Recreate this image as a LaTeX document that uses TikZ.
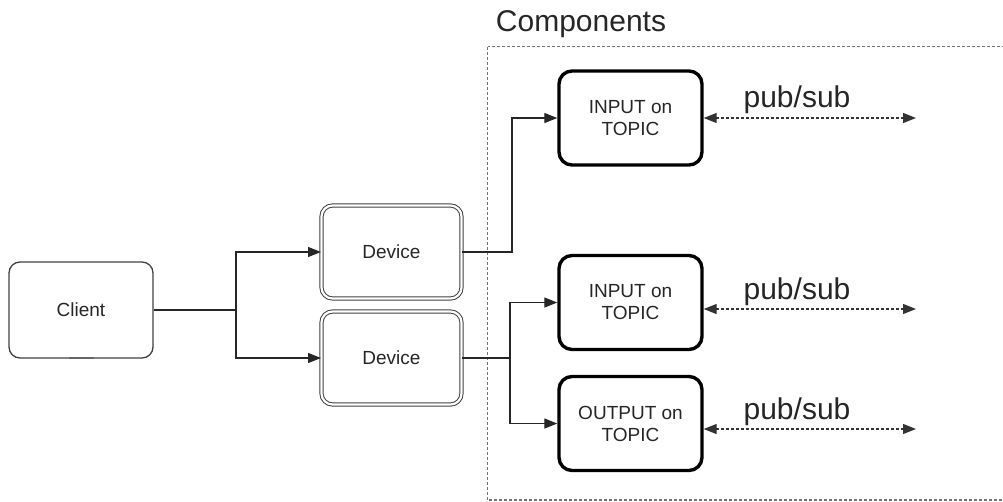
\documentclass[tikz,border=0pt]{standalone}
\usepackage{fontspec}
\setmainfont{Liberation Sans}
\usetikzlibrary{arrows.meta,positioning}

\tikzset{
  small/.style={font=\fontsize{19}{22}\selectfont, align=center, text=black!85},
  big/.style={font=\fontsize{30}{34}\selectfont, text=black!85},
  plainbox/.style={draw=black!75, line width=1.3pt, rounded corners=11pt,
    minimum width=144pt, minimum height=96pt, small},
  devbox/.style={draw=black!75, double=white, double distance=2.2pt, line width=1pt,
    rounded corners=11pt, minimum width=140pt, minimum height=93pt, small},
  topicbox/.style={draw=black, line width=3.4pt, rounded corners=13pt,
    minimum width=143pt, minimum height=94pt, small},
  link/.style={draw=black!85, line width=1.3pt, -{Triangle[length=13pt,width=10pt]}},
  wire/.style={draw=black!85, line width=1.3pt},
  pubsub/.style={draw=black!80, line width=1.3pt, dash pattern=on 3pt off 2pt,
    {Triangle[length=13pt,width=10pt]}-{Triangle[length=13pt,width=10pt]}},
  group/.style={draw=black!55, line width=1.2pt, dash pattern=on 3pt off 2pt}
}

\begin{document}
\begin{tikzpicture}[x=1pt,y=-1pt]
\useasboundingbox (0,0) rectangle (1003,501);
\clip (0,0) rectangle (1003,501);

% group frame for the components
\draw[group] (487.5,46.5) rectangle (1010,500);
\node[big, anchor=base] (comp) at (581,31) {Components};

% client and devices
\node[plainbox] (client) at (81,310) {Client};
\draw[black!60, line width=2pt] (69,357.5) -- (94,357.5);
\node[devbox] (dev1) at (391.5,252) {Device};
\node[devbox] (dev2) at (391.5,358) {Device};

% topic components
\node[topicbox] (in1) at (630.5,118) {INPUT on\\TOPIC};
\node[topicbox] (in2) at (630.5,302.5) {INPUT on\\TOPIC};
\node[topicbox] (out) at (630.5,423.5) {OUTPUT on\\TOPIC};

% pub/sub endpoints
\coordinate (e1) at (916,118);
\coordinate (e2) at (916,309);
\coordinate (e3) at (916,429);

% client to devices
\coordinate (cs) at (236,310);
\draw[wire] (client.east) -- (cs);
\draw[link] (cs) |- (dev1.west);
\draw[link] (cs) |- (dev2.west);

% devices to components
\draw[link] (dev1.east) -- (512,252) |- (in1.west);
\coordinate (ds) at (510,358);
\draw[wire] (dev2.east) -- (ds);
\draw[link] (ds) |- (in2.west);
\draw[link] (ds) |- (out.west);

% pub/sub channels
\draw[pubsub] (in1.east) -- (e1);
\draw[pubsub] (in2.east |- e2) -- (e2);
\draw[pubsub] (out.east |- e3) -- (e3);
\node[big] (ps1) at (797,100) {pub/sub};
\node[big] (ps2) at (797,292) {pub/sub};
\node[big] (ps3) at (797,412) {pub/sub};
\end{tikzpicture}
\end{document}
